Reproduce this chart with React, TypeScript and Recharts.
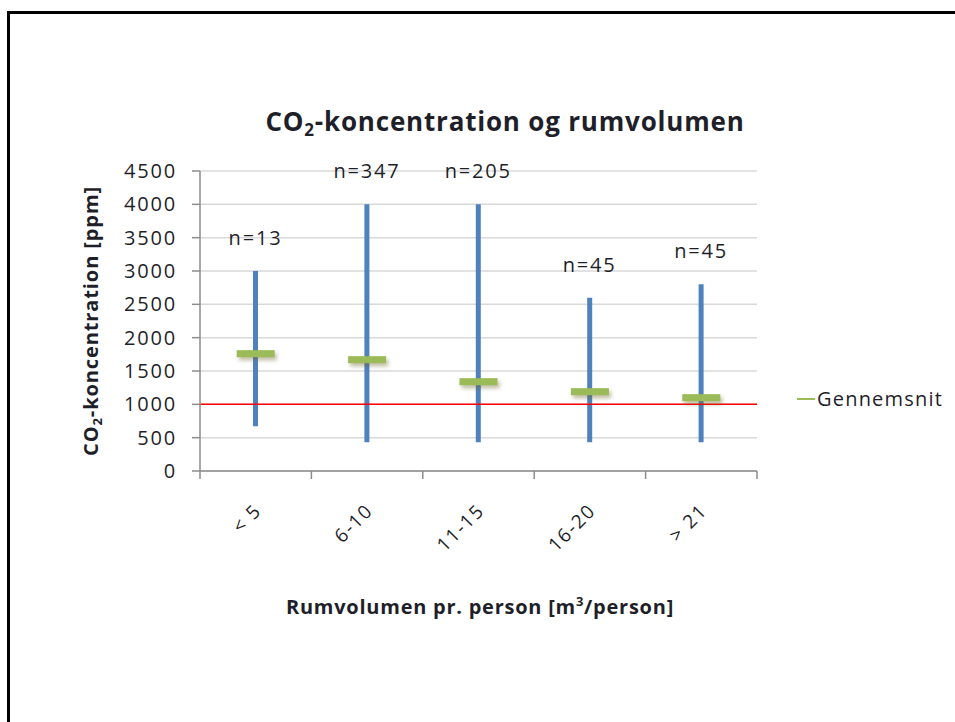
import { ComposedChart, Bar, Scatter, XAxis, YAxis, CartesianGrid, ReferenceLine, LabelList } from 'recharts';

const categories = ['< 5', '6-10', '11-15', '16-20', '> 21'];
const minValues = [670, 430, 430, 430, 430];
const maxValues = [3000, 4000, 4000, 2600, 2800];
const avgValues = [1760, 1670, 1340, 1190, 1100];
const counts = [13, 347, 205, 45, 45];
const yTicks = [0, 500, 1000, 1500, 2000, 2500, 3000, 3500, 4000, 4500];
const threshold = 1000;

const data = categories.map((cat, i) => ({
  cat,
  range: [minValues[i], maxValues[i]],
  avg: avgValues[i],
  n: counts[i],
}));

const FONT = '"Open Sans", sans-serif';
const TXT = '#1f1f2a';
const AXIS = '#8c8c8c';

const AvgMark = (props: any) => {
  const { cx, cy } = props;
  return (
    <rect x={cx - 19} y={cy - 3.5} width={38} height={7} fill="#9bbb59"
      style={{ filter: 'drop-shadow(2px 3px 2px rgba(110,100,40,0.45))' }} />
  );
};

// category label rotated, plus tick marks on the band edges (Excel style)
const CatTick = (props: any) => {
  const { x, y, payload, index } = props;
  const half = payload.offset || 0;
  const ax = x + 7;
  const ay = y + 41;
  return (
    <g>
      <line x1={x - half} x2={x - half} y1={y} y2={y + 8} stroke={AXIS} strokeWidth={1.5} />
      {index === categories.length - 1 && (
        <line x1={x + half} x2={x + half} y1={y} y2={y + 8} stroke={AXIS} strokeWidth={1.5} />
      )}
      <text x={ax} y={ay} transform={`rotate(-45 ${ax} ${ay})`} textAnchor="end"
        fontSize={19} fontFamily={FONT} fill={TXT} letterSpacing={1.6}>
        {payload.value}
      </text>
    </g>
  );
};

const App = () => (
  <div style={{ position: 'absolute', left: 0, top: 0, width: 955, height: 722, overflow: 'hidden', background: '#fff', fontFamily: FONT }}>
    <div style={{ position: 'absolute', left: 7, top: 11, width: 1000, height: 800, border: '3px solid #000' }} />
    <div style={{ position: 'absolute', left: 0, width: 1010, top: 108, textAlign: 'center', fontSize: 26, fontWeight: 700, lineHeight: 1, color: TXT, letterSpacing: 0.8, whiteSpace: 'nowrap' }}>
      CO<sub style={{ fontSize: 17, verticalAlign: -5 }}>2</sub>-koncentration og rumvolumen
    </div>
    <div style={{ position: 'absolute', left: 92, top: 321, transform: 'translate(-50%, -50%) rotate(-90deg)', whiteSpace: 'nowrap', fontSize: 20, fontWeight: 700, color: TXT, lineHeight: 1, letterSpacing: 0.9 }}>
      CO<sub style={{ fontSize: 13, verticalAlign: -4 }}>2</sub>-koncentration [ppm]
    </div>
    <div style={{ position: 'absolute', left: 0, width: 960, top: 595, textAlign: 'center', fontSize: 20, fontWeight: 700, color: TXT, lineHeight: 1, letterSpacing: 0.75, whiteSpace: 'nowrap' }}>
      Rumvolumen pr. person [m<sup style={{ fontSize: 13, verticalAlign: 8 }}>3</sup>/person]
    </div>
    <div style={{ position: 'absolute', left: 797, top: 385, display: 'flex', alignItems: 'center', fontSize: 20, color: TXT, letterSpacing: 1.2 }}>
      <span style={{ display: 'inline-block', width: 18, height: 2, background: '#9bbb59', marginRight: 2 }} />
      Gennemsnit
    </div>
    <div style={{ position: 'absolute', left: 0, top: 0 }}>
      <ComposedChart width={955} height={722} data={data} margin={{ top: 171, right: 198, bottom: 0, left: 0 }}>
        <CartesianGrid vertical={false} stroke="#d9d9d9" strokeWidth={1.5} />
        <XAxis dataKey="cat" height={251} axisLine={{ stroke: AXIS, strokeWidth: 1.5 }} tickLine={false}
          tickSize={0} tickMargin={0} tick={<CatTick />} interval={0} />
        <YAxis width={200} domain={[0, 4500]} ticks={yTicks} tickSize={8} tickMargin={15} stroke={AXIS} strokeWidth={1.5}
          tick={{ fontSize: 20, fill: TXT, fontFamily: FONT, letterSpacing: 1.8 }} interval={0} />
        <ReferenceLine y={threshold} stroke="#ff0000" strokeWidth={1.5} />
        <Bar dataKey="range" fill="#4f81bd" barSize={5} isAnimationActive={false}>
          <LabelList dataKey="n" position="top" offset={26} formatter={(v: any) => `n=${v}`}
            style={{ fontSize: 20, fill: TXT, fontFamily: FONT, letterSpacing: 1.8 }} />
        </Bar>
        <Scatter dataKey="avg" shape={<AvgMark />} isAnimationActive={false} />
      </ComposedChart>
    </div>
  </div>
);

export default App;
